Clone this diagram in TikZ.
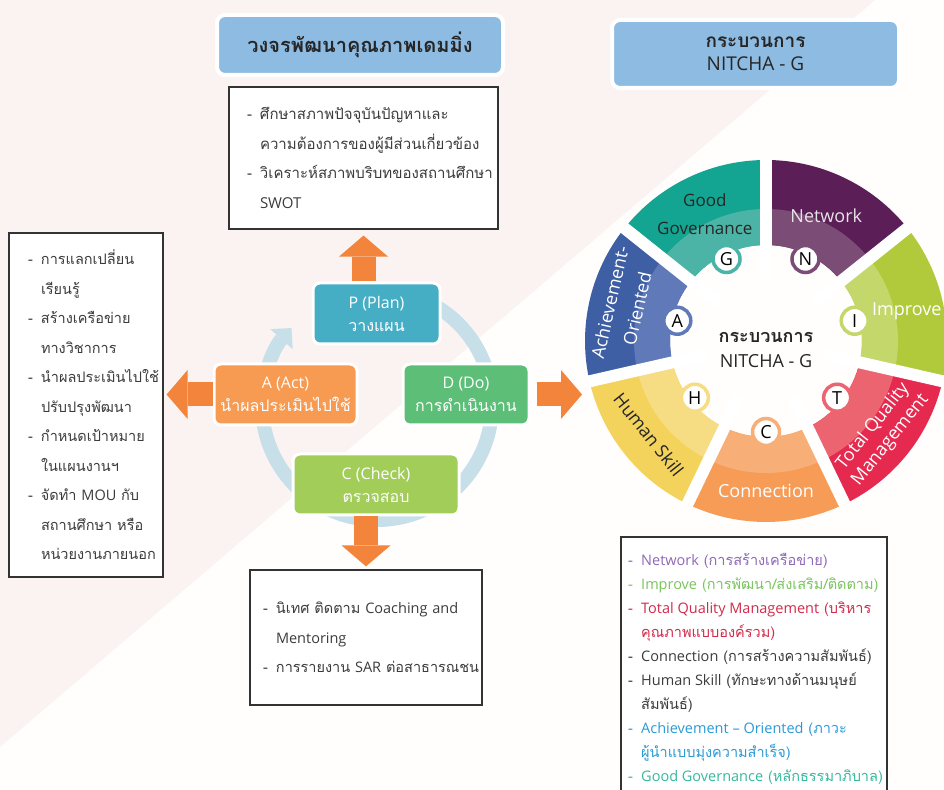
\documentclass[tikz,border=0pt]{standalone}
\usepackage{fontspec}
\setmainfont{Loma}[Script=Thai]
\newfontfamily\lat{Open Sans}
\usetikzlibrary{arrows.meta}

\definecolor{bgpink}{HTML}{FAF3F1}
\definecolor{bgwhite}{HTML}{FFFEFD}
\definecolor{titleblue}{HTML}{8DBBE2}
\definecolor{ringblue}{HTML}{C6DFE8}
\definecolor{arrorange}{HTML}{F2843C}
\definecolor{pblue}{HTML}{45AEC5}
\definecolor{dgreen}{HTML}{5DBE78}
\definecolor{cgreen}{HTML}{A1CD58}
\definecolor{aorange}{HTML}{F79A52}
\definecolor{txtgray}{HTML}{3C3C3C}
% wheel colours (outer / inner band)
\definecolor{gdark}{HTML}{13A591}\definecolor{glight}{HTML}{4CB4A6}
\definecolor{ndark}{HTML}{5C1E57}\definecolor{nlight}{HTML}{7B4C75}
\definecolor{idark}{HTML}{B1CA3B}\definecolor{ilight}{HTML}{C4D76A}
\definecolor{tdark}{HTML}{E6294F}\definecolor{tlight}{HTML}{EC6470}
\definecolor{cdark}{HTML}{F69C56}\definecolor{clight}{HTML}{F8AF77}
\definecolor{hdark}{HTML}{F4D35C}\definecolor{hlight}{HTML}{F6DC82}
\definecolor{adark}{HTML}{3E5FA4}\definecolor{alight}{HTML}{6079B8}
% legend text colours
\definecolor{netpurple}{HTML}{8E69B6}
\definecolor{impgreen}{HTML}{7BC45F}
\definecolor{tqmred}{HTML}{D22A4A}
\definecolor{achblue}{HTML}{2A9AD6}
\definecolor{ggteal}{HTML}{36B89E}

% one line of a list: with dash, or indented under the dash
\newcommand{\itm}[1]{\mbox{\makebox[13pt][l]{-}#1}}
\newcommand{\cnt}[1]{\mbox{\hspace{13pt}#1}}

\begin{document}
\begin{tikzpicture}[x=1pt, y=1pt,
    titlebox/.style={fill=titleblue, draw=white, line width=4pt, rounded corners=8pt,
        align=center, text=black!85},
    pdca/.style={draw=white, line width=3pt, rounded corners=7pt, text=white,
        align=center, minimum height=61pt, font=\fontsize{16}{23}\selectfont},
    txtbox/.style={draw=black!80, line width=1.2pt, fill=white, align=left,
        text=txtgray},
    bigarr/.style={arrorange, line width=24pt,
        -{Triangle[width=49pt,length=21pt,line width=0pt]}},
    ring/.style={ringblue, line width=14pt,
        -{Triangle[width=30pt,length=15pt,line width=0pt]}},
    ltr/.style={circle, fill=white, line width=3.5pt, minimum size=27pt, inner sep=0pt,
        text=black, font={\lat\fontsize{18}{18}\selectfont}},
    wlabel/.style={align=center, font={\lat\fontsize{18}{24}\selectfont}}]

    \useasboundingbox (0,0) rectangle (944,789);
    \clip (0,0) rectangle (944,789);

    % background with the pale diagonal
    \fill[bgwhite] (0,0) rectangle (944,789);
    \fill[bgpink] (0,789) -- (875,789) -- (0,42) -- cycle;

    % titles
    \node[titlebox, minimum width=286pt, minimum height=60pt,
        font=\fontsize{20}{24}\selectfont\bfseries] (deming) at (360,744) {วงจรพัฒนาคุณภาพเดมมิ่ง};
    \node[titlebox, minimum width=287pt, minimum height=68pt, font=\fontsize{19}{23}\selectfont] (nitcha) at (755.5,735)
        {{\bfseries กระบวนการ}\\ {\lat NITCHA - G}};

    % PDCA cycle
    \draw[ring] (377,384) ++(60:115) arc[start angle=60, end angle=-222, radius=115];

    \node[pdca, fill=pblue, minimum width=127pt] (P) at (376.5,475.5) {{\lat P (Plan)}\\ วางแผน};
    \node[pdca, fill=aorange, minimum width=143pt] (A) at (285.5,394.5) {{\lat A (Act)}\\ นำผลประเมินไปใช้};
    \node[pdca, fill=dgreen, minimum width=126pt] (D) at (466,394.5) {{\lat D (Do)}\\ การดำเนินงาน};
    \node[pdca, fill=cgreen, minimum width=166pt] (C) at (376,304.5) {{\lat C (Check)}\\ ตรวจสอบ};

    % text boxes round the cycle
    \node[txtbox, text width=233pt, minimum height=142pt, inner xsep=18pt,
        font=\fontsize{15}{29.5}\selectfont] (plantxt) at (363.5,631)
        {\itm{ศึกษาสภาพปัจจุบันปัญหาและ}\\
         \cnt{ความต้องการของผู้มีส่วนเกี่ยวข้อง}\\
         \itm{วิเคราะห์สภาพบริบทของสถานศึกษา}\\
         \cnt{\lat SWOT}};
    \node[txtbox, text width=116pt, minimum height=344pt, inner xsep=19pt,
        font=\fontsize{14.5}{29.5}\selectfont] (acttxt) at (86,384)
        {\itm{การแลกเปลี่ยน}\\
         \cnt{เรียนรู้}\\
         \itm{สร้างเครือข่าย}\\
         \cnt{ทางวิชาการ}\\
         \itm{นำผลประเมินไปใช้}\\
         \cnt{ปรับปรุงพัฒนา}\\
         \itm{กำหนดเป้าหมาย}\\
         \cnt{ในแผนงานฯ}\\
         \itm{จัดทำ {\lat MOU} กับ}\\
         \cnt{สถานศึกษา หรือ}\\
         \cnt{หน่วยงานภายนอก}};
    \node[txtbox, text width=206pt, minimum height=135pt, inner xsep=13pt,
        font=\fontsize{14.5}{29.5}\selectfont] (chktxt) at (366,151.5)
        {\itm{นิเทศ ติดตาม {\lat Coaching and}}\\
         \cnt{\lat Mentoring}\\
         \itm{การรายงาน {\lat SAR} ต่อสาธารณชน}};

    \coordinate (wheelin) at (582,394.5);
    \draw[bigarr, shorten >=6pt] (P.north -| plantxt.south) -- (plantxt.south);
    \draw[bigarr, shorten >=3pt] (A.west) -- (A.west -| acttxt.east);
    \draw[bigarr, shorten <=6pt] (D.east) -- (wheelin);
    \draw[bigarr, shorten >=3pt] (C.south -| chktxt.north) -- (chktxt.north);

    % NITCHA-G wheel
    \begin{scope}[shift={(766,448)}]
        \foreach \c/\dk/\lt in {115.71/gdark/glight, 64.29/ndark/nlight, 12.86/idark/ilight,
                -38.57/tdark/tlight, -90/cdark/clight, -141.43/hdark/hlight, 167.14/adark/alight}{
            \fill[\dk] (\c-25.71:96) arc[start angle=\c-25.71, end angle=\c+25.71, radius=96]
                -- (\c+25.71:181) arc[start angle=\c+25.71, end angle=\c-25.71, radius=181] -- cycle;
            \fill[\lt] (\c-25.71:96) arc[start angle=\c-25.71, end angle=\c+25.71, radius=96]
                -- (\c+25.71:132) arc[start angle=\c+25.71, end angle=\c-25.71, radius=132] -- cycle;
        }
        \foreach \b in {90, 38.57, -12.86, -64.29, -115.71, -167.14, 141.43}
            \draw[white, line width=12pt] (\b:60) -- (\b:182);

        \foreach \c/\lt/\l in {115.71/glight/G, 64.29/nlight/N, 12.86/ilight/I, -38.57/tlight/T,
                -90/clight/C, -141.43/hlight/H, 167.14/alight/A}
            \node[ltr, draw=\lt] (c\l) at (\c:91) {\l};

        \node[wlabel, text=black!85, font={\lat\fontsize{17}{28}\selectfont}] (gg) at (115.71:141) {Good\\Governance};
        \node[wlabel, text=white!90!black] (net) at (64.29:139) {Network};
        \node[wlabel, text=white] (imp) at (12:144) {Improve};
        \node[wlabel, text=white, rotate=51.43, font={\lat\fontsize{18}{22}\selectfont}] (tqm) at (-38.57:148) {Total Quality\\Management};
        \node[wlabel, text=white] (con) at (-90:150) {Connection};
        \node[wlabel, text=black!85, rotate=-51.43] (hum) at (-141.43:150) {Human Skill};
        \node[wlabel, text=white, rotate=77.14, font={\lat\fontsize{18}{28}\selectfont}] (ach) at (166:147) {Achievement-\\Oriented};

        \node[align=center, text=black!85, font=\fontsize{18}{25}\selectfont] (hub) at (0,-9)
            {{\bfseries กระบวนการ}\\ {\lat NITCHA - G}};
    \end{scope}

    % legend
    \draw[draw=black!80, line width=1.2pt, fill=white] (621,252) rectangle (887,-20);
    \node[anchor=north west, align=left, inner sep=0pt, font=\fontsize{14.5}{24}\selectfont] (legend) at (628,236)
        {{\color{netpurple}\itm{{\lat Network} (การสร้างเครือข่าย)}}\\
         {\color{impgreen}\itm{{\lat Improve} (การพัฒนา/ส่งเสริม/ติดตาม)}}\\
         {\color{tqmred}\itm{{\lat Total Quality Management} (บริหาร}}\\
         {\color{tqmred}\cnt{คุณภาพแบบองค์รวม)}}\\
         {\color{txtgray}\itm{{\lat Connection} (การสร้างความสัมพันธ์)}}\\
         {\color{txtgray}\itm{{\lat Human Skill} (ทักษะทางด้านมนุษย์}}\\
         {\color{txtgray}\cnt{สัมพันธ์)}}\\
         {\color{achblue}\itm{{\lat Achievement – Oriented} (ภาวะ}}\\
         {\color{achblue}\cnt{ผู้นำแบบมุ่งความสำเร็จ)}}\\
         {\color{ggteal}\itm{{\lat Good Governance} (หลักธรรมาภิบาล)}}};
\end{tikzpicture}
\end{document}
